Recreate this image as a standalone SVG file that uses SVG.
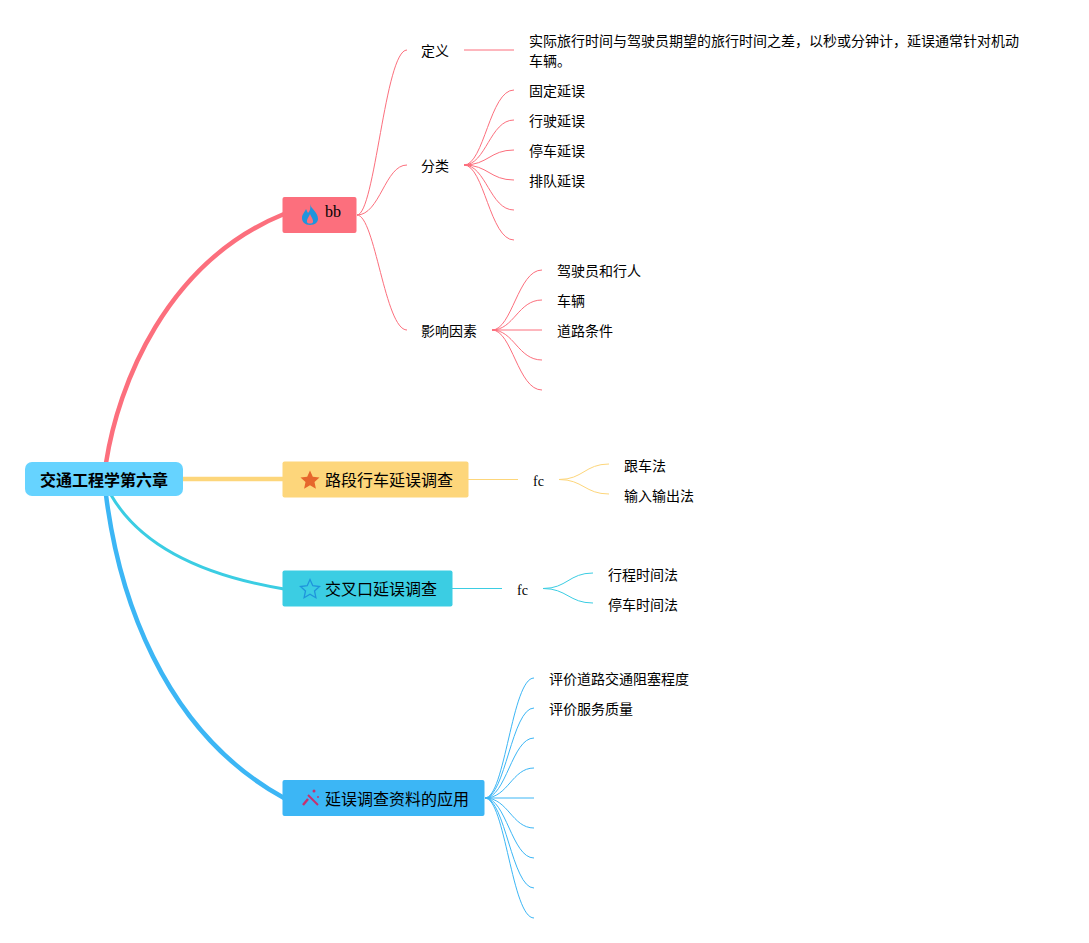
<svg xmlns="http://www.w3.org/2000/svg" width="1089" height="943" viewBox="0 0 1089 943">
<style>
text{font-family:"Liberation Serif","Noto Sans CJK SC",serif;fill:#000}
.s{font-size:14px}
.m{font-size:16px}
.r{stroke:#fc6f7d}.y{stroke:#fdd67b}.t{stroke:#3bcde3}.b{stroke:#3cb6f5}
</style>
<rect width="1089" height="943" fill="#fff"/>
<g id="connectors" fill="none">
<path class="r" stroke-width="4.500" d="M106 463C118 385 166 262 284 214"/>
<path class="y" stroke-width="4.500" d="M183 479H284"/>
<path class="t" stroke-width="3" d="M111 495C140 545 200 575 284 589"/>
<path class="b" stroke-width="4.500" d="M106 495C118 590 160 730 284 798"/>
<g stroke-width="1">
<path class="r" d="M357 215C375 215 385 50 407 50"/>
<path class="r" d="M357 215C380 215 385 165 407 165"/>
<path class="r" d="M357 215C375 215 385 330 407 330"/>
<path class="r" d="M464 50H514"/>
<path class="r" d="M464 165C484 165 490 90 514 90"/>
<path class="r" d="M464 165C486 165 490 120 514 120"/>
<path class="r" d="M464 165C488 165 490 150 514 150"/>
<path class="r" d="M464 165C488 165 490 180 514 180"/>
<path class="r" d="M464 165C486 165 490 210 514 210"/>
<path class="r" d="M464 165C484 165 490 240 514 240"/>
<path class="r" d="M492 330C512 330 518 270 542 270"/>
<path class="r" d="M492 330C514 330 518 300 542 300"/>
<path class="r" d="M492 330H542"/>
<path class="r" d="M492 330C514 330 518 360 542 360"/>
<path class="r" d="M492 330C512 330 518 390 542 390"/>
<path class="y" d="M468 479.500H518"/>
<path class="y" d="M559 479.500C583 479.500 585 464 609 464"/>
<path class="y" d="M559 479.500C583 479.500 585 494 609 494"/>
<path class="t" d="M452 588.500H502"/>
<path class="t" d="M543 588.500C567 588.500 569 573 593 573"/>
<path class="t" d="M543 588.500C567 588.500 569 603 593 603"/>
<path class="b" d="M485 798C505 798 512 678 534 678"/>
<path class="b" d="M485 798C505 798 512 708 534 708"/>
<path class="b" d="M485 798C506 798 512 738 534 738"/>
<path class="b" d="M485 798C508 798 512 768 534 768"/>
<path class="b" d="M485 798H534"/>
<path class="b" d="M485 798C508 798 512 828 534 828"/>
<path class="b" d="M485 798C506 798 512 858 534 858"/>
<path class="b" d="M485 798C505 798 512 888 534 888"/>
<path class="b" d="M485 798C505 798 512 918 534 918"/>
</g>
</g>
<g id="root"><rect x="25" y="462" width="158" height="34" rx="7" fill="#66d3ff"/><text x="40" y="486" font-size="16" font-weight="bold">交通工程学第六章</text></g>
<g id="n-bb"><rect x="282.500" y="197" width="74" height="36" rx="2" fill="#fc6f7d"/><path d="M310 204C311 209 318 212 318 219C318 222 315 225 310 225C305 225 302 222 302 218C302 214 305 212 306 209C307 211 307.500 212 308 213C310 211 311 208 310 204ZM310 214C309 217 306.500 219 307 222C307.300 224 312.700 224 313 222C313.500 219 311 217 310 214Z" fill="#1f94dc" fill-rule="evenodd"/><text x="325" y="217" class="m">bb</text></g>
<g id="n-road"><rect x="282.500" y="461.500" width="186" height="36" rx="2" fill="#fdd67b"/><path d="M310 470.500L312.800 476.700L319.500 477.500L314.500 482L315.900 488.700L310 485.300L304.100 488.700L305.500 482L300.500 477.500L307.200 476.700Z" fill="#e6672c"/><text x="325" y="486" class="m">路段行车延误调查</text></g>
<g id="n-cross"><rect x="282.500" y="570.500" width="170" height="36" rx="2" fill="#3bcde3"/><path d="M310 579.500L312.800 585.700L319.500 586.500L314.500 591L315.900 597.700L310 594.300L304.100 597.700L305.500 591L300.500 586.500L307.200 585.700Z" fill="none" stroke="#1f94dc" stroke-width="1.300"/><text x="325" y="595" class="m">交叉口延误调查</text></g>
<g id="n-app"><rect x="282.500" y="780" width="202" height="36" rx="2" fill="#3cb6f5"/><path d="M308 795L318 805" stroke="#c7306f" stroke-width="2" fill="none"/><path d="M308 799L303 805" stroke="#c7306f" stroke-width="2.500" fill="none"/><circle cx="314" cy="791" r="1.500" fill="#c7306f"/><circle cx="318" cy="797" r="1" fill="#c7306f"/><text x="325" y="805" class="m">延误调查资料的应用</text></g>
<g id="n-def"><text x="421" y="56" class="s">定义</text></g>
<g id="n-def-text"><text x="529" y="46" class="s">实际旅行时间与驾驶员期望的旅行时间之差，以秒或分钟计，延误通常针对机动</text><text x="529" y="66" class="s">车辆。</text></g>
<g id="n-class"><text x="421" y="171" class="s">分类</text></g>
<g id="n-c1"><text x="529" y="96" class="s">固定延误</text></g>
<g id="n-c2"><text x="529" y="126" class="s">行驶延误</text></g>
<g id="n-c3"><text x="529" y="156" class="s">停车延误</text></g>
<g id="n-c4"><text x="529" y="186" class="s">排队延误</text></g>
<g id="n-factor"><text x="421" y="336" class="s">影响因素</text></g>
<g id="n-f1"><text x="557" y="276" class="s">驾驶员和行人</text></g>
<g id="n-f2"><text x="557" y="306" class="s">车辆</text></g>
<g id="n-f3"><text x="557" y="336" class="s">道路条件</text></g>
<g id="n-fc1"><text x="533" y="486" class="s">fc</text></g>
<g id="n-r1"><text x="624" y="471" class="s">跟车法</text></g>
<g id="n-r2"><text x="624" y="501" class="s">输入输出法</text></g>
<g id="n-fc2"><text x="517" y="595" class="s">fc</text></g>
<g id="n-x1"><text x="608" y="580" class="s">行程时间法</text></g>
<g id="n-x2"><text x="608" y="610" class="s">停车时间法</text></g>
<g id="n-a1"><text x="549" y="684" class="s">评价道路交通阻塞程度</text></g>
<g id="n-a2"><text x="549" y="714" class="s">评价服务质量</text></g>
</svg>
